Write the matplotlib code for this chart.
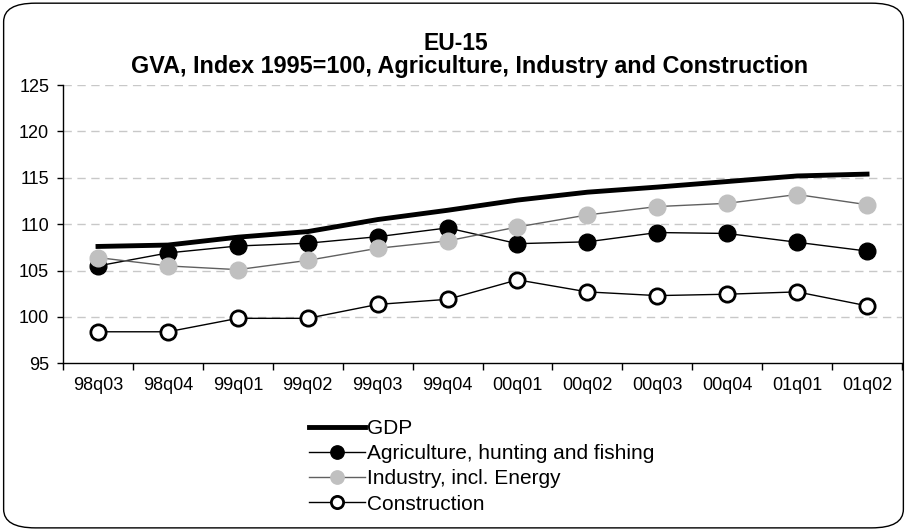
import numpy as np
import matplotlib
matplotlib.use('Agg')
import matplotlib.pyplot as plt
from matplotlib.patches import FancyBboxPatch

# Data
quarters = ['98q03', '98q04', '99q01', '99q02', '99q03', '99q04',
            '00q01', '00q02', '00q03', '00q04', '01q01', '01q02']
gdp = [107.6, 107.75, 108.6, 109.2, 110.5, 111.5,
       112.6, 113.45, 114.0, 114.6, 115.2, 115.4]
agriculture = [105.5, 106.9, 107.65, 107.95, 108.65, 109.6,
               107.9, 108.1, 109.1, 109.0, 108.05, 107.1]
industry = [106.4, 105.5, 105.1, 106.1, 107.4, 108.2,
            109.7, 111.0, 111.9, 112.25, 113.2, 112.1]
construction = [98.4, 98.4, 99.85, 99.85, 101.35, 101.9,
                104.0, 102.7, 102.3, 102.45, 102.7, 101.2]

plt.rcParams['font.family'] = 'Liberation Sans'

fig = plt.figure(figsize=(9.07, 5.30), dpi=100)

# Rounded border around the whole chart
border = FancyBboxPatch((0.004, 0.004), 0.992, 0.99,
                        boxstyle='round,pad=0,rounding_size=0.035',
                        transform=fig.transFigure, facecolor='none',
                        edgecolor='black', linewidth=1.0, zorder=-1)
fig.patches.append(border)

ax = fig.add_axes([0.0695, 0.3145, 0.925, 0.525])
ax.set_facecolor('none')
x = np.arange(len(quarters))

ax.plot(x, gdp, color='black', linewidth=3.5, label='GDP', zorder=3)
ax.plot(x, agriculture, color='black', linewidth=1.0, marker='o',
        markersize=12, markerfacecolor='black', markeredgecolor='black',
        label='Agriculture, hunting and fishing', zorder=4)
ax.plot(x, industry, color='#606060', linewidth=1.0, marker='o',
        markersize=12, markerfacecolor='#c0c0c0', markeredgecolor='#c0c0c0',
        label='Industry, incl. Energy', zorder=4)
ax.plot(x, construction, color='black', linewidth=1.0, marker='o',
        markersize=11, markerfacecolor='white', markeredgecolor='black',
        markeredgewidth=2, label='Construction', zorder=4)

ax.set_xlim(-0.5, len(quarters) - 0.5)
ax.set_ylim(95, 125)
ax.set_yticks(np.arange(95, 126, 5))
ax.set_xticks(x)
ax.set_xticklabels(quarters)
ax.set_xticks(np.arange(-0.5, len(quarters), 1), minor=True)
ax.tick_params(axis='x', which='major', length=0, pad=10, labelsize=13)
ax.tick_params(axis='x', which='minor', length=5, width=1, direction='out')
ax.tick_params(axis='y', length=4, width=1, pad=6, labelsize=13)

for yv in range(100, 126, 5):
    ax.axhline(yv, color='#c8c8c8', linestyle=(0, (6, 4)), linewidth=1.0,
               zorder=1)

ax.spines['top'].set_visible(False)
ax.spines['right'].set_visible(False)
ax.spines['left'].set_linewidth(1.0)
ax.spines['bottom'].set_linewidth(1.0)

fig.text(456 / 907, 1 - 43 / 530, 'EU-15', ha='center', va='center',
         fontsize=16.5, fontweight='bold')
fig.text(470 / 907, 1 - 67 / 530,
         'GVA, Index 1995=100, Agriculture, Industry and Construction',
         ha='center', va='center', fontsize=16.8, fontweight='bold')

ax.legend(loc='upper left', bbox_to_anchor=(309 / 907, 1 - 419 / 530),
          bbox_transform=fig.transFigure, frameon=False, fontsize=15,
          handlelength=2.7, handletextpad=0.1, labelspacing=0.3,
          markerscale=0.8, borderpad=0, borderaxespad=0)

fig.savefig('out.png', dpi=100)
